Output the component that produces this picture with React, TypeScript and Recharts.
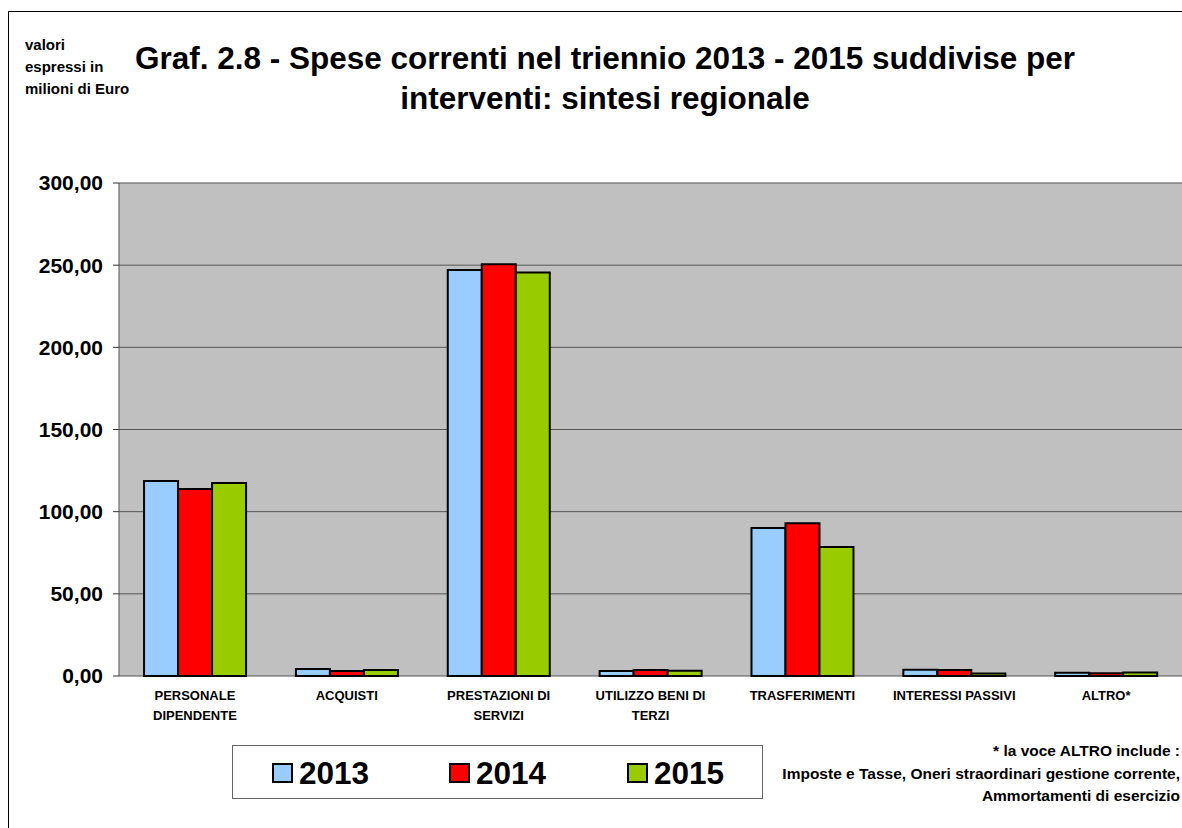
import { Bar, BarChart, CartesianGrid, XAxis, YAxis } from "recharts";

const categories = [
  "PERSONALE\nDIPENDENTE",
  "ACQUISTI",
  "PRESTAZIONI DI\nSERVIZI",
  "UTILIZZO BENI DI\nTERZI",
  "TRASFERIMENTI",
  "INTERESSI PASSIVI",
  "ALTRO*",
];

const values2013 = [118.7, 4.3, 247.0, 3.0, 90.0, 3.8, 2.0];
const values2014 = [113.8, 3.0, 250.6, 3.6, 93.0, 3.6, 1.6];
const values2015 = [117.5, 3.6, 245.6, 3.2, 78.5, 1.5, 2.2];

const seriesNames = ["2013", "2014", "2015"];
const seriesColors = ["#99ccff", "#ff0000", "#99cc00"];

const yTicks = [0, 50, 100, 150, 200, 250, 300];
const edgeTicks = [0, 1, 2, 3, 4, 5, 6, 7];

const data = categories.map((name, i) => ({
  name,
  y2013: values2013[i],
  y2014: values2014[i],
  y2015: values2015[i],
}));

const FONT = "'Liberation Sans', Arial, sans-serif";

function CategoryTick(props: any) {
  const { x, y, payload } = props;
  const lines = String(payload.value).split("\n");
  return (
    <text
      x={x}
      y={y + 16}
      textAnchor="middle"
      fontFamily={FONT}
      fontWeight="bold"
      fontSize={13}
      fill="#000"
    >
      {lines.map((line, i) => (
        <tspan key={i} x={x} dy={i === 0 ? 0 : 20}>
          {line}
        </tspan>
      ))}
    </text>
  );
}

const fmt = (v: number) => v.toFixed(2).replace(".", ",");

export default function App() {
  return (
    <div
      style={{
        position: "absolute",
        left: 0,
        top: 0,
        width: 1182,
        height: 828,
        background: "#fff",
        fontFamily: FONT,
        overflow: "hidden",
      }}
    >
      <div
        style={{
          position: "absolute",
          left: 8,
          top: 11,
          width: 1200,
          height: 840,
          border: "1.5px solid #000",
          boxSizing: "border-box",
        }}
      />
      <div
        style={{
          position: "absolute",
          left: 25,
          top: 34,
          fontSize: 15,
          fontWeight: "bold",
          lineHeight: "22px",
        }}
      >
        valori
        <br />
        espressi in
        <br />
        milioni di Euro
      </div>
      <div
        style={{
          position: "absolute",
          left: 105,
          top: 38,
          width: 1000,
          textAlign: "center",
          fontSize: 31.5,
          fontWeight: "bold",
          lineHeight: "40px",
        }}
      >
        Graf. 2.8 - Spese correnti nel triennio 2013 - 2015 suddivise per
        <br />
        interventi: sintesi regionale
      </div>

      <div style={{ position: "absolute", left: 0, top: 0 }}>
        <BarChart
          width={1182}
          height={828}
          data={data}
          margin={{ top: 183, right: 0, bottom: 92, left: 8 }}
          barCategoryGap="16.5%"
          barGap={0}
        >
          <CartesianGrid
            vertical={false}
            fill="#c0c0c0"
            stroke="#555"
            strokeWidth={1}
            fillOpacity={1}
          />
          <XAxis
            xAxisId="edges"
            type="number"
            domain={[0, 7]}
            ticks={edgeTicks}
            allowDataOverflow
            height={0}
            tick={false}
            tickLine={{ stroke: "#333" }}
            tickSize={6}
            axisLine={{ stroke: "#555" }}
          />
          <XAxis
            dataKey="name"
            height={60}
            interval={0}
            tick={<CategoryTick />}
            tickLine={false}
            axisLine={false}
          />
          <YAxis
            width={111}
            domain={[0, 300]}
            ticks={yTicks}
            tickFormatter={fmt}
            interval={0}
            tick={{
              fontFamily: FONT,
              fontWeight: "bold",
              fontSize: 21,
              fill: "#000",
            }}
            tickLine={{ stroke: "#333" }}
            tickSize={6}
            tickMargin={10}
            axisLine={{ stroke: "#555" }}
          />
          <Bar
            dataKey="y2013"
            name={seriesNames[0]}
            fill={seriesColors[0]}
            stroke="#000"
            strokeWidth={2}
            isAnimationActive={false}
          />
          <Bar
            dataKey="y2014"
            name={seriesNames[1]}
            fill={seriesColors[1]}
            stroke="#000"
            strokeWidth={2}
            isAnimationActive={false}
          />
          <Bar
            dataKey="y2015"
            name={seriesNames[2]}
            fill={seriesColors[2]}
            stroke="#000"
            strokeWidth={2}
            isAnimationActive={false}
          />
        </BarChart>
      </div>

      <div
        style={{
          position: "absolute",
          left: 232,
          top: 745,
          width: 531,
          height: 54,
          border: "1px solid #666",
          boxSizing: "border-box",
        }}
      >
        {seriesNames.map((name, i) => (
          <div
            key={name}
            style={{
              position: "absolute",
              left: [39, 216, 394][i],
              top: 17,
              display: "flex",
              alignItems: "center",
            }}
          >
            <div
              style={{
                width: 21,
                height: 20,
                background: seriesColors[i],
                border: "2px solid #000",
                boxSizing: "border-box",
              }}
            />
            <span
              style={{
                marginLeft: 6,
                fontSize: 31.5,
                fontWeight: "bold",
                lineHeight: "20px",
              }}
            >
              {name}
            </span>
          </div>
        ))}
      </div>

      <div
        style={{
          position: "absolute",
          right: 2,
          top: 740,
          textAlign: "right",
          fontSize: 15.5,
          fontWeight: "bold",
          lineHeight: "22.5px",
        }}
      >
        * la voce ALTRO include :
        <br />
        Imposte e Tasse, Oneri straordinari gestione corrente,
        <br />
        Ammortamenti di esercizio
      </div>
    </div>
  );
}
